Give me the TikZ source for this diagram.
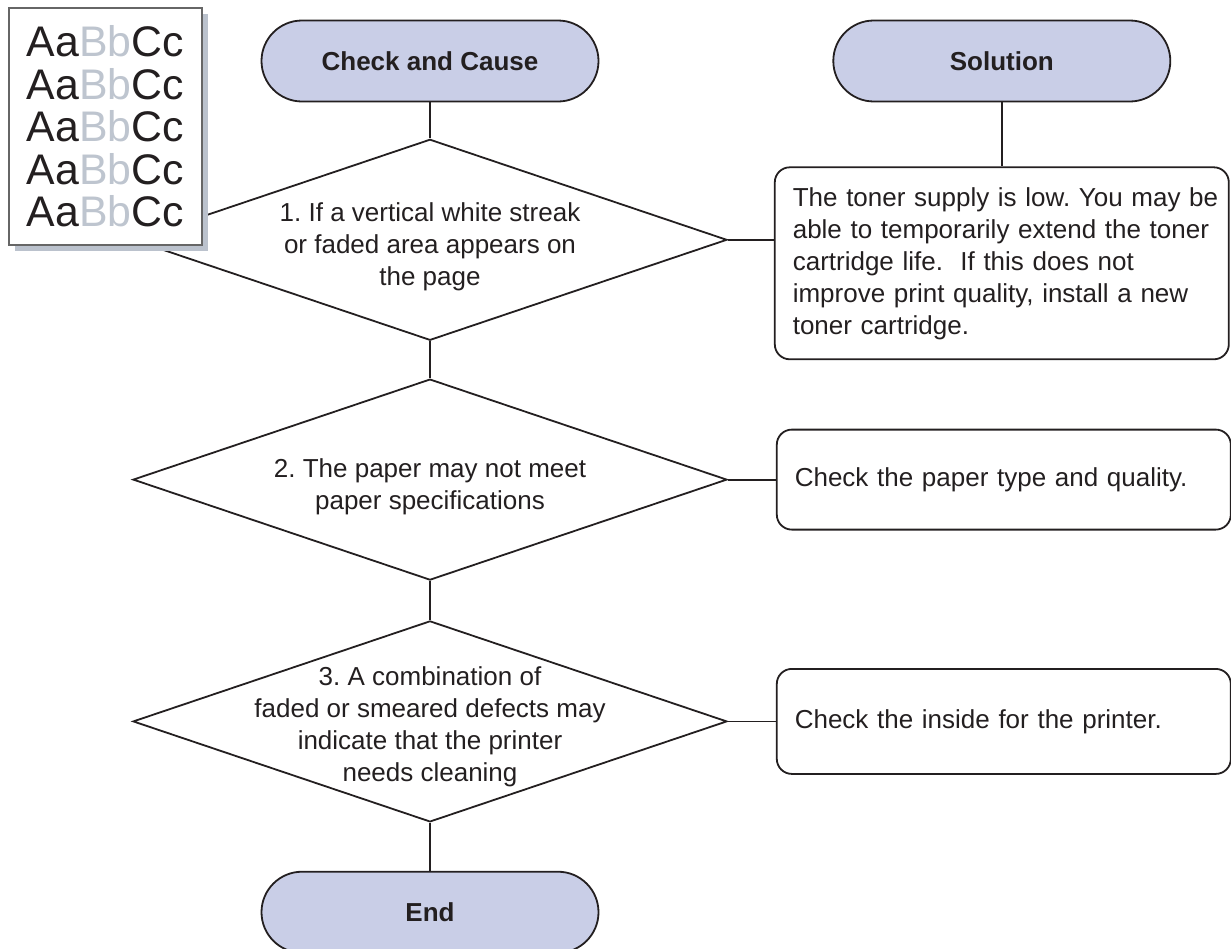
\documentclass[tikz,border=0pt]{standalone}
\usepackage{fontspec}
\setmainfont{Liberation Sans}
\usepackage{xcolor}
\usepackage{tikz}
\usetikzlibrary{positioning,shapes.geometric,shadows}
\definecolor{ink}{RGB}{35,31,32}
\definecolor{lilac}{RGB}{201,206,231}
\definecolor{shade}{RGB}{187,194,205}
\definecolor{faint}{RGB}{190,197,207}
\newcommand{\specline}{Aa\textcolor{faint}{Bb}Cc}
\frenchspacing

\begin{document}
\begin{tikzpicture}[
    font=\fontsize{13}{16}\selectfont,
    node distance=18pt and 24pt,
    term/.style={draw=ink,line width=0.9pt,fill=lilac,rounded corners=20.25pt,minimum width=168.5pt,minimum height=40.5pt,font=\fontsize{13}{16}\selectfont\bfseries,text=ink},
    decision/.style={draw=ink,line width=0.9pt,diamond,minimum width=297pt,minimum height=100.5pt,inner sep=0pt},
    asktext/.style={align=center,text=ink,inner sep=0pt},
    answer/.style={draw=ink,line width=0.9pt,rounded corners=7.5pt,text width=209pt,inner xsep=9pt,minimum height=50pt,align=left,text=ink},
    specimen/.style={draw=black!60,fill=white,line width=0.6pt,minimum width=96.5pt,minimum height=118.5pt,align=center,inner sep=0pt,text=ink,font=\fontsize{21.4}{21.25}\selectfont,drop shadow={shadow xshift=3pt,shadow yshift=-3pt,fill=shade,opacity=1}},
    link/.style={draw=ink,line width=0.9pt}
]
    \useasboundingbox (0pt,0pt) rectangle (615.5pt,-474pt);

    \node[term] (cause) at (215pt,-30.5pt) {Check and Cause};
    \node[term,right=116.5pt of cause] (solution) {Solution};

    \node[decision,below=18pt of cause] (q1) {};
    \node[asktext] (q1txt) at ([yshift=-3.5pt]q1.center) {1. If a vertical white streak\\or faded area appears on\\the page};
    \node[decision,below=18.5pt of q1] (q2) {};
    \node[asktext] (q2txt) at ([yshift=-3.5pt]q2.center) {2. The paper may not meet\\paper specifications};
    \node[decision,below=19.5pt of q2] (q3) {};
    \node[asktext] (q3txt) at ([yshift=-2.5pt]q3.center) {3. A combination of\\faded or smeared defects may\\indicate that the printer\\needs cleaning};
    \node[term,below=24pt of q3] (finish) {End};

    \node[answer,minimum height=96pt,below=32pt of solution] (a1) {\mbox{The toner supply is low. You may be}\\\mbox{able to temporarily extend the toner}\\cartridge life.\ \ If this does not\\improve print quality, install a new\\toner cartridge.};
    \node[answer,right=24pt of q2] (a2) {Check the paper type and quality.};
    \node[answer,minimum height=52.5pt,right=24pt of q3] (a3) {Check the inside for the printer.};

    \draw[link] (cause)--(q1);
    \draw[link] (q1)--(q2);
    \draw[link] (q2)--(q3);
    \draw[link] (q3)--(finish);
    \draw[link] (solution)--(a1);
    \draw[link] (q1.east)--(q1.east -| a1.west);
    \draw[link] (q2.east)--(a2.west);
    \draw[link] (q3.east)--(q3.east -| a3.west);

    % sample print, on top of the first diamond
    \node[specimen] (sample) at (52.75pt,-63.25pt) {\specline\\\specline\\\specline\\\specline\\\specline};
\end{tikzpicture}
\end{document}
